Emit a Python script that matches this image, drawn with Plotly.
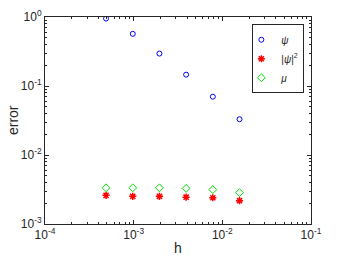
import plotly.graph_objects as go

h = [1/2048, 1/1024, 1/512, 1/256, 1/128, 1/64]
err_psi = [0.95, 0.57, 0.295, 0.146, 0.070, 0.033]
err_rho = [0.0026, 0.00252, 0.00252, 0.00245, 0.00240, 0.00218]
err_mu = [0.00335, 0.00335, 0.00335, 0.00328, 0.00315, 0.00285]

x_tickvals = [1e-4, 1e-3, 1e-2, 1e-1]
x_ticktext = ["10<sup>-4</sup>", "10<sup>-3</sup>", "10<sup>-2</sup>", "10<sup>-1</sup>"]
y_tickvals = [1e-3, 1e-2, 1e-1, 1e0]
y_ticktext = ["10<sup>-3</sup>", "10<sup>-2</sup>", "10<sup>-1</sup>", "10<sup>0</sup>"]

FONT = "Liberation Sans, Arial"
INK = "#262626"

fig = go.Figure()
fig.add_trace(go.Scatter(x=h, y=err_psi, mode="markers", name="<i>ψ</i>",
                         marker=dict(symbol="circle-open", size=5, color="blue", line=dict(width=1))))
fig.add_trace(go.Scatter(x=h, y=err_rho, mode="markers", name="|<i>ψ</i>|<sup>2</sup>",
                         marker=dict(symbol="asterisk-open", size=6, color="red", line=dict(width=1.5, color="red"))))
fig.add_trace(go.Scatter(x=h, y=err_mu, mode="markers", name="<i>μ</i>",
                         marker=dict(symbol="diamond-open", size=6, color="#00e000", line=dict(width=1))))

axis_common = dict(
    showgrid=False, zeroline=False, showline=True, linecolor=INK, linewidth=1,
    mirror="allticks", ticks="inside", ticklen=4, tickcolor=INK, automargin=False,
    tickfont=dict(family=FONT, size=12, color=INK),
    minor=dict(ticks="inside", ticklen=2, tickcolor=INK, dtick="D1", showgrid=False),
)

fig.update_xaxes(type="log", range=[-4, -1], tickvals=x_tickvals, ticktext=x_ticktext, **axis_common)
fig.update_yaxes(type="log", range=[-3, 0], tickvals=y_tickvals, ticktext=y_ticktext, **axis_common)

fig.add_annotation(text="h", xref="paper", yref="paper", x=0.5, y=-0.115,
                   xanchor="center", yanchor="middle", showarrow=False,
                   font=dict(family=FONT, size=14, color=INK))
fig.add_annotation(text="error", xref="paper", yref="paper", x=-0.122, y=0.5,
                   xanchor="center", yanchor="middle", showarrow=False, textangle=-90,
                   font=dict(family=FONT, size=14, color=INK))

fig.update_layout(
    width=342, height=257,
    margin=dict(l=45, r=31, t=17, b=33),
    plot_bgcolor="white", paper_bgcolor="white",
    showlegend=True,
    legend=dict(x=0.975, y=0.965, xanchor="right", yanchor="top",
                bgcolor="white", bordercolor=INK, borderwidth=1,
                font=dict(family=FONT, size=10, color=INK),
                itemwidth=30, tracegroupgap=0, indentation=-12),
)

# remove the browser's default 8px body margin so the figure fills the window
fig.write_html("out.html", config={"displayModeBar": False},
               post_script="document.body.style.margin='0';")
